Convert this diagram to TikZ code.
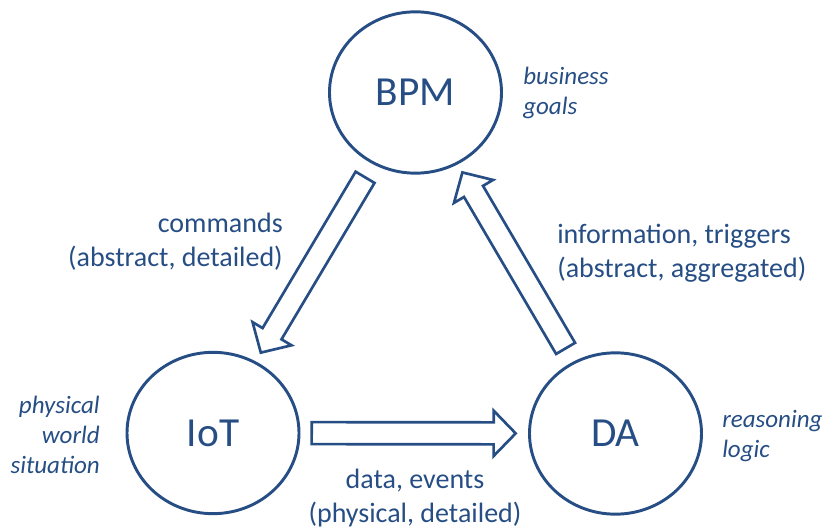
\documentclass[tikz,border=0pt]{standalone}
\usepackage{fontspec}
\setmainfont{Carlito}
\usetikzlibrary{calc,shapes.geometric}
\definecolor{bpmblue}{RGB}{38,78,132}

\begin{document}
\begin{tikzpicture}[x=0.75pt,y=-0.75pt,
    actor/.style={ellipse,draw=bpmblue,line width=2.2pt,minimum width=129pt,
        minimum height=121pt,inner sep=0pt,text=bpmblue,font=\fontsize{31}{37}\selectfont},
    flow/.style={draw=bpmblue,line width=2pt,line join=miter},
    flowtext/.style={text=bpmblue,inner sep=0pt,font=\fontsize{21}{25.5}\selectfont},
    roletext/.style={text=bpmblue,inner sep=0pt,font=\fontsize{18.75}{22.5}\selectfont\itshape}]

    % Keep the page at the reference size
    \useasboundingbox (0,0) rectangle (825,531);

    % The three circles
    \node[actor] (BPM) at (415.5,92.5) {BPM};
    \node[actor] (IoT) at (213,433) {IoT};
    \node[actor] (DA) at (615.5,433.5) {DA};

    % Hollow block arrows from circle to circle
    \foreach \from/\to in {BPM/IoT, IoT/DA, DA/BPM} {
        \coordinate (tail) at ($(\from)!74pt!(\to)$);
        \coordinate (tip) at ($(\from)!227pt!(\to)$);
        \coordinate (neck) at ($(tip)!16.5pt!(tail)$);
        \draw[flow] ($(tail)!8.25pt!90:(tip)$) -- ($(neck)!8.25pt!90:(tip)$)
            -- ($(neck)!17pt!90:(tip)$) -- (tip) -- ($(neck)!17pt!-90:(tip)$)
            -- ($(neck)!8.25pt!-90:(tip)$) -- ($(tail)!8.25pt!-90:(tip)$) -- cycle;
    }

    % Labels of the flows (base = last line)
    \node[flowtext,align=right,anchor=base east] (cmd) at (283,267)
        {commands\\(abstract, detailed)};
    \node[flowtext,align=left,anchor=base west] (info) at (557,277)
        {information, triggers\\(abstract, aggregated)};
    \node[flowtext,align=center,anchor=base] (data) at (415,522)
        {data, events\\(physical, detailed)};

    % Roles of the circles
    \node[roletext,align=left,anchor=base west] (goals) at (523,115)
        {business\\goals};
    \node[roletext,align=right,anchor=base east] (world) at (100,473)
        {physical\\world\\situation};
    \node[roletext,align=left,anchor=base west] (logic) at (722,457)
        {reasoning\\logic};

\end{tikzpicture}
\end{document}
